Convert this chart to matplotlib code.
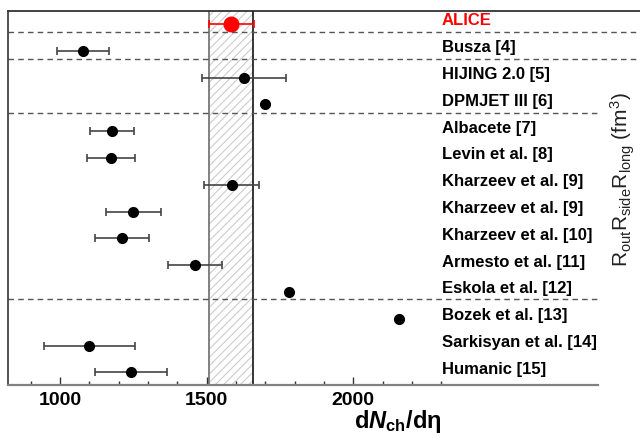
import matplotlib
matplotlib.use("Agg")
import matplotlib.pyplot as plt
import matplotlib.transforms as mtransforms
import numpy as np

plt.rcParams['font.family'] = ['Liberation Sans', 'DejaVu Sans']
plt.rcParams['mathtext.fontset'] = 'custom'
plt.rcParams['mathtext.rm'] = 'Liberation Sans:bold'
plt.rcParams['mathtext.it'] = 'Liberation Sans:italic:bold'
plt.rcParams['mathtext.bf'] = 'Liberation Sans:bold'
plt.rcParams['hatch.color'] = '#cccccc'
plt.rcParams['hatch.linewidth'] = 0.8

# ---- data ----
labels = ["ALICE", "Busza [4]", "HIJING 2.0 [5]", "DPMJET III [6]", "Albacete [7]",
          "Levin et al. [8]", "Kharzeev et al. [9]", "Kharzeev et al. [9]",
          "Kharzeev et al. [10]", "Armesto et al. [11]", "Eskola et al. [12]",
          "Bozek et al. [13]", "Sarkisyan et al. [14]", "Humanic [15]"]
values = [1584, 1078, 1627, 1700, 1177, 1173, 1585, 1250, 1212, 1460, 1782, 2157, 1100, 1243]
errors = [76, 89, 144, 0, 75, 82, 93, 93, 93, 93, 0, 0, 156, 123]
alice_band = [1508, 1659]
separators = [0.30, 1.31, 3.31, 10.27]   # dashed group separators (row units)
sep_extended = [True, True, False, False]
major_ticks = [1000, 1500, 2000]
minor_ticks = [900, 1100, 1200, 1300, 1400, 1600, 1700, 1800, 1900, 2100, 2200, 2300]

W, H = 640, 438
fig = plt.figure(figsize=(W / 100, H / 100), dpi=100)
ax_left, ax_right, ax_top, ax_bot = 8, 598, 11, 385.3
ax = fig.add_axes([ax_left / W, 1 - ax_bot / H, (ax_right - ax_left) / W, (ax_bot - ax_top) / H])

px_per_unit = 0.2933
x0 = 1000 - (60 - ax_left) / px_per_unit
x1 = 1000 + (ax_right - 60) / px_per_unit
ax.set_xlim(x0, x1)
ax.set_ylim(13.48, -0.485)

rows = np.arange(len(labels))

# ALICE band
ax.axvspan(alice_band[0], alice_band[1], facecolor='white', edgecolor='#cccccc',
           hatch='////', linewidth=0, zorder=0)
ax.axvline(alice_band[0], color='#777777', lw=1.3, zorder=1)
ax.axvline(alice_band[1], color='black', lw=1.1, zorder=1)

# separators
tr = mtransforms.blended_transform_factory(ax.transAxes, ax.transData)
ext = (W - ax_left) / (ax_right - ax_left)
for s, e in zip(separators, sep_extended):
    ax.plot([0, ext if e else 1], [s, s], transform=tr, color='#555555', lw=1.0,
            dashes=(4, 3), clip_on=False, zorder=2)

# model points
for i in rows[1:]:
    if errors[i] > 0:
        ax.errorbar(values[i], i, xerr=errors[i], fmt='none', ecolor='#444444',
                    elinewidth=1.2, capsize=3, capthick=1.2, zorder=3)
    ax.plot(values[i], i, 'o', color='black', ms=7, zorder=4)

# ALICE point
ax.errorbar(values[0], 0, xerr=errors[0], fmt='none', ecolor='red', elinewidth=1.2,
            capsize=3, capthick=1.2, zorder=3)
ax.plot(values[0], 0, 'o', color='red', ms=10.5, zorder=4)

# labels
for i, lab in enumerate(labels):
    ax.text(2301, i + 0.05, lab, ha='left', va='baseline', fontsize=12, fontweight='bold',
            color='red' if i == 0 else 'black', zorder=5)

# spines
ax.spines['right'].set_visible(False)
ax.spines['top'].set_visible(False)
ax.spines['left'].set_color('#333333')
ax.spines['left'].set_linewidth(1.2)
ax.spines['bottom'].set_color('#808080')
ax.spines['bottom'].set_linewidth(1.6)
ax.plot([0, ext], [1, 1], transform=ax.transAxes, color='#222222', lw=1.2, clip_on=False)

# ticks
ax.set_yticks([])
ax.set_xticks(major_ticks)
ax.set_xticks(minor_ticks, minor=True)
ax.tick_params(axis='x', which='major', direction='in', length=6, width=1, color='#333333',
               labelsize=14, pad=5)
ax.tick_params(axis='x', which='minor', direction='in', length=3, width=1, color='#333333')
for t in ax.get_xticklabels():
    t.set_fontweight('bold')

# x title (right-aligned at the end of the tick range)
fig.text(441.5 / W, 1 - 428 / H, r'd$N_{\mathrm{ch}}$/d$\mathrm{\eta}$', ha='right',
         va='baseline', fontsize=17, fontweight='bold')

# rotated label at the right edge
fig.text(628.5 / W, 1 - 180 / H, r'$\mathregular{R_{out}R_{side}R_{long}}$ (fm$^{\mathregular{3}}$)',
         rotation=90, rotation_mode='anchor', ha='center', va='baseline',
         fontsize=15, fontweight='normal', color='#222222')

fig.savefig('out.png', dpi=100)
